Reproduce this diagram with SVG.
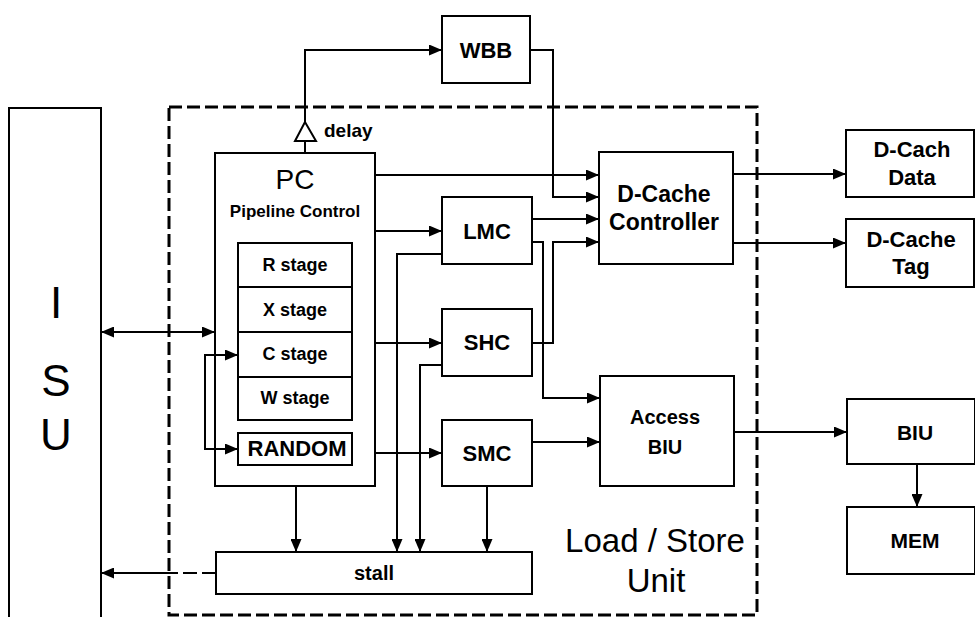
<svg xmlns="http://www.w3.org/2000/svg" width="975" height="617" viewBox="0 0 975 617">
<style>
.box{fill:#fff;stroke:#000;stroke-width:2}
.ln{fill:none;stroke:#000;stroke-width:2}
.t{font-family:"Liberation Sans",Arial,sans-serif;fill:#000;text-anchor:middle}
.b{font-weight:bold}
</style>
<defs>
<marker id="ah" viewBox="0 0 13 11" markerWidth="13" markerHeight="11" refX="13" refY="5.5" orient="auto-start-reverse" markerUnits="userSpaceOnUse">
<path d="M0,0 L13,5.5 L0,11 z" fill="#000"/>
</marker>
</defs>
<rect width="975" height="617" fill="#fff"/>

<g id="lsu-boundary">
<rect x="169" y="107" width="588" height="508" fill="none" stroke="#000" stroke-width="3" stroke-dasharray="13 5"/>
<text class="t" x="655" y="552" font-size="33">Load / Store</text>
<text class="t" x="656" y="592" font-size="33">Unit</text>
</g>

<g id="isu">
<rect class="box" x="9" y="108" width="92" height="520"/>
<text class="t" x="56" y="318" font-size="44">I</text>
<text class="t" x="56" y="396" font-size="44">S</text>
<text class="t" x="56" y="450" font-size="44">U</text>
</g>

<g id="wbb">
<rect class="box" x="442" y="16" width="88" height="67"/>
<text class="t b" x="486" y="58" font-size="22">WBB</text>
</g>

<g id="pc">
<rect class="box" x="215" y="153" width="160" height="333"/>
<text class="t" x="295" y="189" font-size="28">PC</text>
<text class="t b" x="295" y="217" font-size="17">Pipeline Control</text>
</g>
<g id="r-stage">
<rect class="box" x="238" y="243" width="114" height="44"/>
<text class="t b" x="295" y="271" font-size="18">R stage</text>
</g>
<g id="x-stage">
<rect class="box" x="238" y="287" width="114" height="45"/>
<text class="t b" x="295" y="316" font-size="18">X stage</text>
</g>
<g id="c-stage">
<rect class="box" x="238" y="332" width="114" height="45"/>
<text class="t b" x="295" y="360" font-size="18">C stage</text>
</g>
<g id="w-stage">
<rect class="box" x="238" y="377" width="114" height="43"/>
<text class="t b" x="295" y="404" font-size="18">W stage</text>
</g>
<g id="random">
<rect class="box" x="238" y="433" width="114" height="32"/>
<text class="t b" x="297" y="456" font-size="22">RANDOM</text>
</g>

<g id="lmc">
<rect class="box" x="442" y="197" width="90" height="67"/>
<text class="t b" x="487" y="239" font-size="22">LMC</text>
</g>
<g id="shc">
<rect class="box" x="442" y="309" width="90" height="67"/>
<text class="t b" x="487" y="350" font-size="22">SHC</text>
</g>
<g id="smc">
<rect class="box" x="442" y="420" width="90" height="66"/>
<text class="t b" x="487" y="461" font-size="22">SMC</text>
</g>

<g id="stall">
<rect class="box" x="216" y="552" width="316" height="42"/>
<text class="t b" x="374" y="580" font-size="20">stall</text>
</g>

<g id="dcache-controller">
<rect class="box" x="599" y="152" width="134" height="112"/>
<text class="t b" x="664" y="202" font-size="23">D-Cache</text>
<text class="t b" x="664" y="230" font-size="23">Controller</text>
</g>
<g id="access-biu">
<rect class="box" x="600" y="376" width="134" height="110"/>
<text class="t b" x="665" y="424" font-size="20">Access</text>
<text class="t b" x="665" y="454" font-size="20">BIU</text>
</g>

<g id="dcache-data">
<rect class="box" x="846" y="130" width="128" height="67"/>
<text class="t b" x="912" y="157" font-size="22">D-Cach</text>
<text class="t b" x="912" y="185" font-size="22">Data</text>
</g>
<g id="dcache-tag">
<rect class="box" x="846" y="219" width="128" height="68"/>
<text class="t b" x="911" y="247" font-size="22">D-Cache</text>
<text class="t b" x="911" y="274" font-size="22">Tag</text>
</g>
<g id="biu">
<rect class="box" x="847" y="399" width="128" height="65"/>
<text class="t b" x="915" y="440" font-size="21">BIU</text>
</g>
<g id="mem">
<rect class="box" x="847" y="507" width="128" height="67"/>
<text class="t b" x="915" y="548" font-size="21">MEM</text>
</g>

<g id="connectors">
<path class="ln" d="M305,153 V141"/>
<polygon points="305,122 295,141 316,141" fill="#fff" stroke="#000" stroke-width="2"/>
<text class="t b" x="324" y="137" font-size="19" style="text-anchor:start">delay</text>
<path class="ln" d="M305,122 V50 H442" marker-end="url(#ah)"/>
<path class="ln" d="M530,50 H553 V197 H599" marker-end="url(#ah)"/>
<path class="ln" d="M375,175 H599" marker-end="url(#ah)"/>
<path class="ln" d="M375,231 H442" marker-end="url(#ah)"/>
<path class="ln" d="M375,343 H442" marker-end="url(#ah)"/>
<path class="ln" d="M375,453 H442" marker-end="url(#ah)"/>
<path class="ln" d="M532,219 H599" marker-end="url(#ah)"/>
<path class="ln" d="M532,242 H543 V398 H600" marker-end="url(#ah)"/>
<path class="ln" d="M532,343 H553 V242 H599" marker-end="url(#ah)"/>
<path class="ln" d="M532,442 H600" marker-end="url(#ah)"/>
<path class="ln" d="M442,254 H397 V552" marker-end="url(#ah)"/>
<path class="ln" d="M442,365 H420 V552" marker-end="url(#ah)"/>
<path class="ln" d="M296,486 V552" marker-end="url(#ah)"/>
<path class="ln" d="M487,486 V552" marker-end="url(#ah)"/>
<path class="ln" d="M101,332 H215" marker-start="url(#ah)" marker-end="url(#ah)"/>
<path class="ln" d="M238,355 H205 V449 H238" marker-start="url(#ah)" marker-end="url(#ah)"/>
<path class="ln" d="M733,174 H846" marker-end="url(#ah)"/>
<path class="ln" d="M733,243 H846" marker-end="url(#ah)"/>
<path class="ln" d="M734,432 H847" marker-end="url(#ah)"/>
<path class="ln" d="M917,464 V507" marker-end="url(#ah)"/>
<path class="ln" d="M216,573 H170" stroke-dasharray="14 5"/>
<path class="ln" d="M170,573 H101" marker-end="url(#ah)"/>
</g>
</svg>
